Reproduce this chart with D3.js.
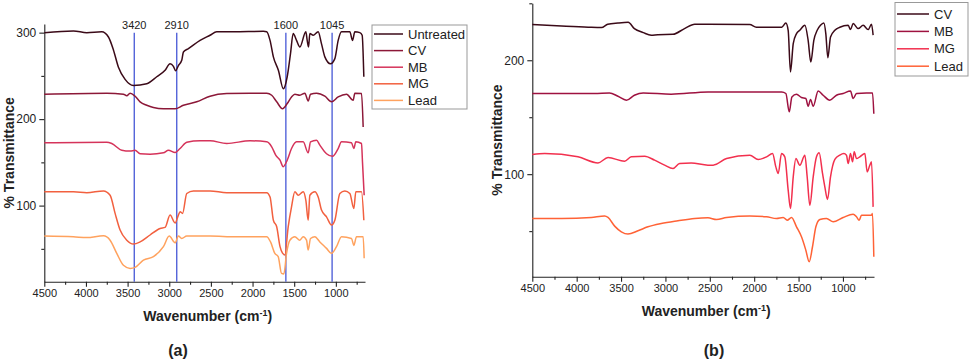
<!DOCTYPE html>
<html>
<head>
<meta charset="utf-8">
<script src="https://cdn.jsdelivr.net/npm/d3@7"></script>
<style>
  body { margin: 0; background: #fff; }
  svg text { font-family: "Liberation Sans", Arial, sans-serif; fill: #222; }
</style>
</head>
<body>
<svg id="chart" width="969" height="359"></svg>
<script>
// ---- data: [wavenumber, % transmittance] ----
const namesA = ["Untreated", "CV", "MB", "MG", "Lead"];
const namesB = ["CV", "MB", "MG", "Lead"];
const xTicks = [4500, 4000, 3500, 3000, 2500, 2000, 1500, 1000];
const yTicks = [100, 200, 300];
const peakLabels = [3420, 2910, 1600, 1045];

const untreatedA = [[4500,300],[4150,302],[3990,300],[3810,301],[3730,295],[3670,280],[3610,260],[3530,246],[3430,239],[3270,241],[3150,249],[3050,256.5],[2990,264],[2950,261],[2924,256],[2890,262],[2850,268],[2830,277.7],[2770,281.5],[2630,291],[2510,297],[2430,301],[2230,301],[1870,301.5],[1830,301],[1790,291],[1750,272],[1690,256.5],[1630,235],[1584,249],[1544,276],[1512,299],[1472,291],[1432,283.4],[1360,301],[1344,291],[1328,283.4],[1312,299],[1272,297],[1212,301],[1172,287],[1132,272],[1064,264],[1012,270],[972,291],[932,301],[832,301],[800,291],[772,301],[712,300],[684,297],[664,249]];
const cvA = [[4500,228.8],[3750,230],[3550,228.8],[3510,227],[3470,230],[3410,226.5],[3350,220],[3270,216],[3190,213.4],[3070,212],[2930,212],[2830,216],[2670,220],[2510,226.5],[2310,229.5],[2030,230],[1830,230],[1770,227.6],[1710,220],[1640,212],[1584,218],[1532,225.7],[1492,228.8],[1432,227.6],[1372,230],[1332,221],[1304,228.8],[1232,230],[1132,226.5],[1052,220],[972,225.7],[872,228.8],[792,221.8],[772,230],[692,229.5],[672,191]];
const mbA = [[4500,172.6],[3750,173.3],[3690,171.8],[3570,164],[3470,163],[3410,164],[3350,160],[3230,159.5],[3070,161],[3010,164],[2930,161.4],[2870,166],[2790,173.3],[2630,175],[2510,175],[2310,171.8],[2030,175],[1830,173.7],[1770,168],[1720,158],[1670,152.5],[1632,145],[1584,152.5],[1532,166],[1472,173.7],[1392,173.7],[1332,161],[1304,173.7],[1232,175.6],[1192,170],[1112,160],[1040,157],[972,166],[932,173.7],[812,172.6],[784,166],[760,173.7],[692,171.8],[680,150],[660,112]];
const mgA = [[4500,116],[4150,116],[3990,115],[3790,117],[3710,112],[3650,91],[3590,71.7],[3510,60],[3430,55.5],[3350,58],[3230,66],[3110,73.6],[3050,74.8],[2990,89],[2930,80],[2890,89],[2870,93],[2840,91],[2790,114],[2710,117],[2510,117],[2310,115],[1830,115],[1790,110],[1750,83],[1710,75.5],[1670,52.5],[1640,45],[1612,43],[1572,75.5],[1532,98.6],[1492,116],[1452,112],[1392,116],[1360,106],[1332,83],[1312,112],[1252,116],[1212,110],[1172,94.8],[1112,87],[1052,77.5],[1012,83],[952,114],[892,117],[832,114],[784,96.7],[760,116],[692,116],[664,83]];
const leadA = [[4500,64.8],[4150,64],[3990,63],[3790,65],[3710,60],[3630,44.7],[3550,31],[3470,27.4],[3410,28.6],[3310,37],[3190,41],[3070,52.5],[3000,64.8],[2930,57],[2890,64.8],[2850,62],[2790,64.8],[2510,64.8],[2200,64],[1830,64],[1784,58],[1732,44.7],[1692,41],[1652,21.6],[1624,21],[1592,44.7],[1552,60],[1492,64],[1432,60],[1392,64],[1352,60],[1332,48.6],[1304,62],[1252,64],[1192,58],[1112,50.5],[1052,44.7],[992,52.5],[932,64],[812,62],[784,54],[752,64],[672,64],[660,39]];

const cvB = [[4500,231.3],[4170,230],[3870,229],[3720,228.7],[3650,231.6],[3535,232.7],[3420,233.3],[3350,227.8],[3250,224.3],[3160,222],[3085,222.5],[2915,222.8],[2785,227.8],[2670,231.6],[2520,231.6],[2050,231.3],[1975,229],[1690,229],[1643,232.7],[1617,226.3],[1591,189.8],[1560,214.6],[1523,223.4],[1486,226.3],[1429,230.7],[1392,217.5],[1362,198.5],[1328,217.5],[1290,226.3],[1253,230.7],[1215,232.7],[1193,223.4],[1170,202.3],[1140,220.5],[1091,226.3],[1035,229],[941,230.7],[915,226.9],[885,232.2],[828,227.8],[772,230.7],[716,226.9],[678,231.6],[660,222]];
const mbB = [[4500,170.8],[3800,170.8],[3630,171.3],[3535,168.4],[3440,164.9],[3350,169.3],[3250,171.3],[2935,170.2],[2520,172.2],[1690,172.2],[1643,170.8],[1605,154.7],[1575,167.8],[1523,170.2],[1467,167.3],[1418,166.4],[1392,159.6],[1365,165.5],[1335,159.6],[1279,173],[1223,169.3],[1148,164.9],[1073,169.3],[998,170.8],[915,173],[885,166.4],[847,170.8],[735,171.3],[667,171.3],[652,153]];
const mgB = [[4500,117.2],[4360,118.1],[3985,115.2],[3760,109.9],[3647,114.6],[3460,111.4],[3385,115.2],[3234,115.8],[3122,112.3],[3009,107.9],[2915,105],[2840,109.4],[2709,109.9],[2521,107.9],[2462,107.9],[2311,113.7],[2049,116.7],[1955,112.9],[1861,115.2],[1793,118.1],[1756,106.4],[1729,100.6],[1692,118.1],[1655,115.2],[1617,86],[1591,69.9],[1560,97.7],[1530,113.7],[1486,107.9],[1429,116.7],[1403,97.7],[1373,72.8],[1335,97.7],[1298,115.2],[1268,118.7],[1230,100.6],[1204,88.9],[1174,77.8],[1140,97.7],[1091,112.9],[1035,116.7],[990,118.1],[960,116.7],[941,109.4],[915,118.1],[892,110.8],[873,119.6],[847,113.7],[810,115.2],[753,118.1],[727,102],[697,107.9],[678,110.8],[660,71.3]];
const leadB = [[4500,61.1],[4170,61.1],[3835,62],[3685,63.2],[3647,62],[3572,54.4],[3497,49.4],[3422,47.4],[3309,50.3],[3197,53.8],[3047,56.7],[2859,59.1],[2671,61.1],[2521,61.7],[2424,60.2],[2311,62],[2049,63.2],[1861,62.6],[1749,61.1],[1673,62],[1628,59.6],[1579,62],[1523,53.8],[1467,45],[1418,33.3],[1380,23.1],[1343,36.3],[1305,53.8],[1260,60.2],[1185,61.1],[1110,58.2],[998,62],[885,64.9],[847,62.6],[817,59.6],[791,64],[678,64],[667,65.5],[652,27.5]];

const colorsA = ["#3b0a18", "#8c1838", "#d5335a", "#f2603f", "#ffa25e"];
const colorsB = ["#3b0a18", "#9e1240", "#f2304e", "#ff6236"];

const svg = d3.select("#chart");

function drawPanel(opt) {
    const g = svg.append("g");
    const x = d3.scaleLinear().domain([4500, 650]).range([opt.left, opt.right]);
    const y = d3.scaleLinear().domain(opt.yDomain).range([opt.bottom, opt.top]);

    // minor ticks (no labels)
    const minorX = d3.range(4500, 650, -250).filter(v => v % 500 !== 0);
    g.append("g")
        .attr("transform", `translate(0,${opt.bottom})`)
        .call(d3.axisBottom(x).tickValues(minorX).tickSize(3).tickFormat(""))
        .call(a => a.select(".domain").remove())
        .call(a => a.selectAll("text").remove());
    g.append("g")
        .attr("transform", `translate(${opt.left},0)`)
        .call(d3.axisLeft(y).tickValues([50, 150, 250].filter(v => v > opt.yDomain[0] && v <= opt.yDomain[1])).tickSize(3).tickFormat(""))
        .call(a => a.select(".domain").remove())
        .call(a => a.selectAll("text").remove());

    // main axes
    const xa = g.append("g")
        .attr("transform", `translate(0,${opt.bottom})`)
        .call(d3.axisBottom(x).tickValues(xTicks).tickFormat(d3.format("d")).tickSize(5).tickPadding(3).tickSizeOuter(0));
    xa.selectAll("text").style("font-size", "11px").style("font-family", "Liberation Sans, Arial, sans-serif").attr("fill", "#222");
    const ya = g.append("g")
        .attr("transform", `translate(${opt.left},0)`)
        .call(d3.axisLeft(y).tickValues(yTicks.filter(v => v <= opt.yDomain[1])).tickFormat(d3.format("d")).tickSize(5).tickPadding(3).tickSizeOuter(0));
    ya.selectAll("text").style("font-size", "12px").style("font-family", "Liberation Sans, Arial, sans-serif").attr("fill", "#222");
    g.selectAll(".domain, .tick line").attr("stroke", "#222").attr("stroke-width", 1.1);

    // peak markers
    if (opt.peaks) {
        opt.peaks.forEach(p => {
            g.append("line")
                .attr("x1", x(p)).attr("x2", x(p))
                .attr("y1", y(300)).attr("y2", opt.bottom)
                .attr("stroke", "#4657d6").attr("stroke-width", 1.3);
            g.append("text")
                .attr("x", x(p)).attr("y", y(300) - 4)
                .attr("text-anchor", "middle")
                .style("font-size", "11px")
                .text(p);
        });
    }

    const line = d3.line()
        .x(d => x(d[0]))
        .y(d => y(d[1]))
        .curve(d3.curveMonotoneX);

    opt.series.forEach((s, i) => {
        g.append("path")
            .datum(s)
            .attr("fill", "none")
            .attr("stroke", opt.colors[i])
            .attr("stroke-width", 1.5)
            .attr("stroke-linejoin", "round")
            .attr("d", line);
    });

    // axis titles
    const xt = g.append("text")
        .attr("x", (opt.left + opt.right) / 2 + 3)
        .attr("y", opt.bottom + 39)
        .attr("text-anchor", "middle")
        .style("font-size", "14px").style("font-weight", "bold");
    xt.append("tspan").text("Wavenumber (cm");
    xt.append("tspan").attr("dy", -5).style("font-size", "9px").text("-1");
    xt.append("tspan").attr("dy", 5).text(")");

    g.append("text")
        .attr("transform", `translate(${opt.left - 30},${(opt.top + opt.bottom) / 2}) rotate(-90)`)
        .attr("text-anchor", "middle")
        .style("font-size", "14px").style("font-weight", "bold")
        .text("% Transmittance");

    g.append("text")
        .attr("x", opt.tagX).attr("y", 356)
        .attr("text-anchor", "middle")
        .style("font-size", "16px").style("font-weight", "bold")
        .text(opt.tag);

    // legend
    const lg = opt.legend;
    g.append("rect")
        .attr("x", lg.x).attr("y", lg.y)
        .attr("width", lg.w).attr("height", lg.h)
        .attr("fill", "#fff").attr("stroke", "#999").attr("stroke-width", 1);
    opt.names.forEach((n, i) => {
        const yy = lg.y + lg.first + i * lg.step;
        g.append("line")
            .attr("x1", lg.x + 2).attr("x2", lg.x + 2 + lg.len)
            .attr("y1", yy).attr("y2", yy)
            .attr("stroke", opt.colors[i]).attr("stroke-width", 1.5);
        g.append("text")
            .attr("x", lg.x + lg.len + 7).attr("y", yy + 4.5)
            .style("font-size", "13px")
            .text(n);
    });
}

drawPanel({
    left: 44.3, right: 365, top: 24, bottom: 281.7,
    yDomain: [12, 310],
    series: [untreatedA, cvA, mbA, mgA, leadA],
    names: namesA, colors: colorsA,
    peaks: peakLabels,
    tag: "(a)", tagX: 178,
    legend: { x: 372, y: 25, w: 95, h: 84, first: 9, step: 16.6, len: 29 }
});

drawPanel({
    left: 532.3, right: 874, top: 3.3, bottom: 276.7,
    yDomain: [10, 250],
    series: [cvB, mbB, mgB, leadB],
    names: namesB, colors: colorsB,
    peaks: null,
    tag: "(b)", tagX: 714,
    legend: { x: 895, y: 2.5, w: 73, h: 73.5, first: 11.5, step: 17.4, len: 32 }
});
</script>
</body>
</html>
